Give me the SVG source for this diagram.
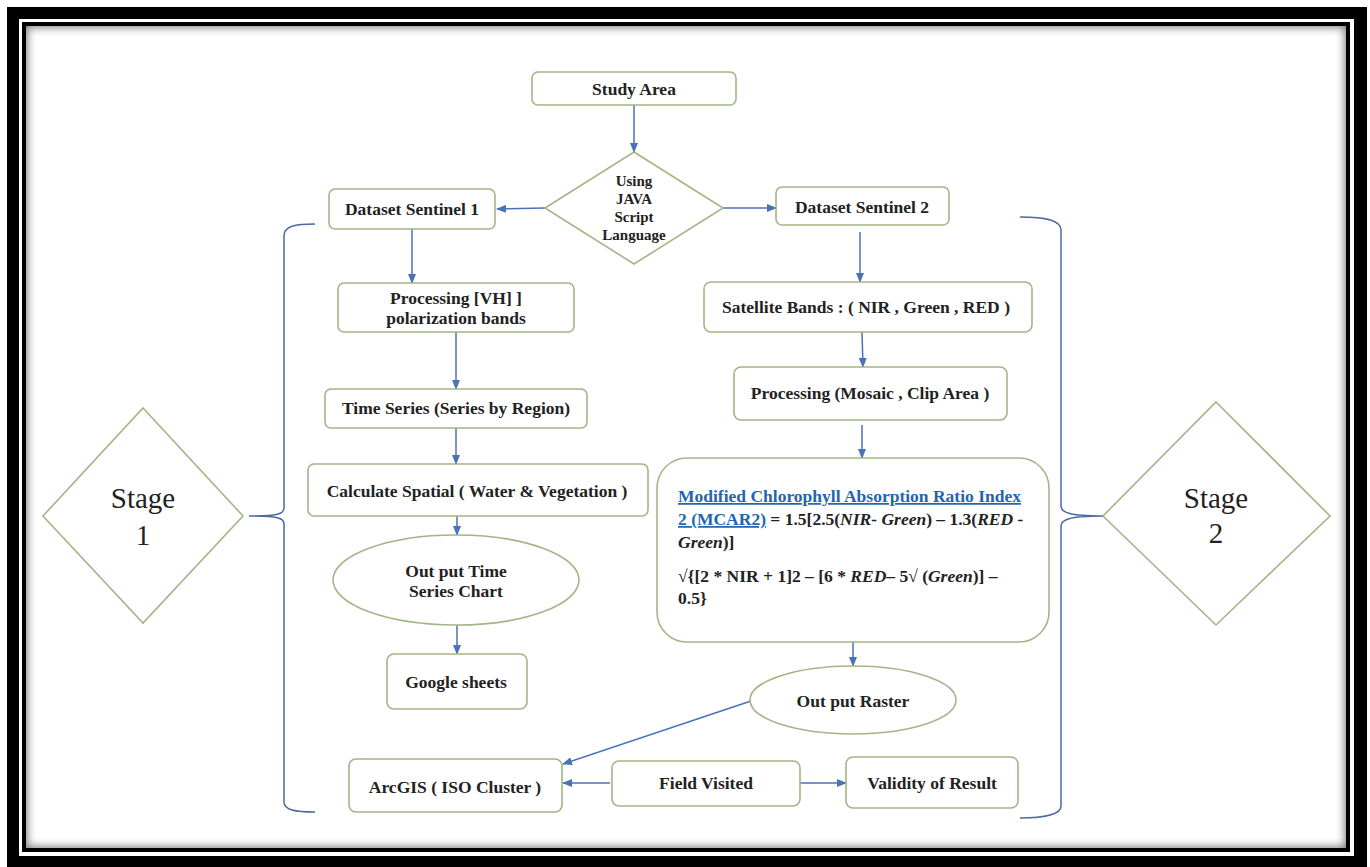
<svg xmlns="http://www.w3.org/2000/svg" width="1370" height="867" viewBox="0 0 1370 867">
<style>
.n{fill:#fff;stroke:#a2b685;stroke-width:1.6}
.t{font-family:"Liberation Serif","Times New Roman",serif;font-weight:bold;font-size:17.5px;fill:#222;text-anchor:middle}
.d{font-size:15px}
.s{font-family:"Liberation Serif","Times New Roman",serif;font-size:29px;fill:#222;text-anchor:middle}
.c{fill:none;stroke:#4a72b8;stroke-width:1.5}
.b{fill:none;stroke:#4d68a3;stroke-width:1.5}
.m{font-family:"Liberation Serif","Times New Roman",serif;font-weight:bold;font-size:17.5px;fill:#222}
.u{fill:#2266b0;text-decoration:underline}
.i{font-style:italic}
</style>
<defs>
<marker id="ah" markerWidth="10" markerHeight="8" refX="9" refY="4" orient="auto" markerUnits="userSpaceOnUse">
<path d="M0,0 L10,4 L0,8 Z" fill="#4a72b8"/>
</marker>
<clipPath id="inner"><rect x="26" y="26" width="1320" height="822"/></clipPath>
<filter id="blur" x="-5%" y="-5%" width="110%" height="110%"><feGaussianBlur stdDeviation="5"/></filter>
</defs>
<g id="frame">
<rect x="0" y="0" width="1370" height="867" fill="#fff"/>
<rect x="7" y="7" width="1360" height="860" fill="#000"/>
<rect x="19" y="19" width="1335" height="837" fill="#fff"/>
<rect x="22" y="22" width="1328" height="830" fill="#000"/>
<rect x="26" y="26" width="1320" height="822" fill="#fff"/>
<g clip-path="url(#inner)"><rect x="20" y="20" width="1332" height="834" fill="none" stroke="#000" stroke-width="14" opacity="0.55" filter="url(#blur)"/></g>
</g>
<g id="connectors">
<line class="c" x1="634" y1="105" x2="634" y2="152" marker-end="url(#ah)"/>
<line class="c" x1="545" y1="208" x2="497" y2="209" marker-end="url(#ah)"/>
<line class="c" x1="723" y1="208" x2="776" y2="208" marker-end="url(#ah)"/>
<line class="c" x1="412" y1="229" x2="412" y2="283" marker-end="url(#ah)"/>
<line class="c" x1="456" y1="332" x2="456" y2="389" marker-end="url(#ah)"/>
<line class="c" x1="456" y1="428" x2="456" y2="464" marker-end="url(#ah)"/>
<line class="c" x1="457" y1="516" x2="457" y2="535" marker-end="url(#ah)"/>
<line class="c" x1="457" y1="625" x2="457" y2="654" marker-end="url(#ah)"/>
<line class="c" x1="860" y1="232" x2="860" y2="282" marker-end="url(#ah)"/>
<line class="c" x1="862" y1="332" x2="863" y2="367" marker-end="url(#ah)"/>
<line class="c" x1="862" y1="425" x2="862" y2="458" marker-end="url(#ah)"/>
<line class="c" x1="853" y1="642" x2="853" y2="666" marker-end="url(#ah)"/>
<line class="c" x1="751" y1="701" x2="563" y2="764" marker-end="url(#ah)"/>
<line class="c" x1="610" y1="783" x2="563" y2="783" marker-end="url(#ah)"/>
<line class="c" x1="800" y1="783" x2="846" y2="783" marker-end="url(#ah)"/>
<path class="b" d="M315,224 C295,224 284,226 284,236 L284,508 C284,514 278,516 249,516 C278,516 284,518 284,524 L284,802 C284,810 295,812 315,812"/>
<path class="b" d="M1020,217 C1045,217 1061,220 1061,230 L1061,506 C1061,512 1068,516 1103,516 C1068,516 1061,520 1061,526 L1061,806 C1061,814 1045,818 1020,818"/>
</g>
<g id="study-area"><rect class="n" x="532" y="72" width="204" height="33" rx="6"/><text class="t" x="634" y="95">Study Area</text></g>
<g id="decision"><polygon class="n" points="634,152 723,208 634,264 545,208"/>
<text class="t d" x="634" y="186">Using</text><text class="t d" x="634" y="204">JAVA</text><text class="t d" x="634" y="222">Script</text><text class="t d" x="634" y="240">Language</text></g>
<g id="sentinel1"><rect class="n" x="329" y="189" width="166" height="40" rx="6"/><text class="t" x="412" y="215">Dataset Sentinel 1</text></g>
<g id="processing-vh"><rect class="n" x="338" y="283" width="236" height="49" rx="6"/><text class="t" x="456" y="304">Processing [VH] ]</text><text class="t" x="456" y="324">polarization bands</text></g>
<g id="time-series"><rect class="n" x="325" y="389" width="262" height="39" rx="6"/><text class="t" x="456" y="414">Time Series (Series by Region)</text></g>
<g id="calc-spatial"><rect class="n" x="308" y="464" width="340" height="52" rx="6"/><text class="t" x="477" y="497">Calculate Spatial ( Water &amp; Vegetation )</text></g>
<g id="out-ts"><ellipse class="n" cx="456" cy="580" rx="123" ry="45"/><text class="t" x="456" y="577">Out put Time</text><text class="t" x="456" y="597">Series Chart</text></g>
<g id="google"><rect class="n" x="387" y="654" width="140" height="55" rx="7"/><text class="t" x="456" y="688">Google sheets</text></g>
<g id="sentinel2"><rect class="n" x="776" y="187" width="173" height="38" rx="6"/><text class="t" x="862" y="213">Dataset Sentinel 2</text></g>
<g id="sat-bands"><rect class="n" x="704" y="282" width="328" height="50" rx="7"/><text class="t" x="866" y="313">Satellite Bands : ( NIR , Green , RED )</text></g>
<g id="mosaic"><rect class="n" x="734" y="367" width="273" height="53" rx="7"/><text class="t" x="870" y="399">Processing (Mosaic , Clip Area )</text></g>
<g id="mcar2"><rect class="n" x="657" y="458" width="392" height="184" rx="30"/>
<text class="m" x="678" y="502"><tspan class="u">Modified Chlorophyll Absorption Ratio Index</tspan></text>
<text class="m" x="678" y="525"><tspan class="u">2 (MCAR2)</tspan> = 1.5[2.5(<tspan class="i">NIR- Green</tspan>) – 1.3(<tspan class="i">RED -</tspan></text>
<text class="m" x="678" y="548"><tspan class="i">Green</tspan>)]</text>
<text class="m" x="678" y="582">√{[2 * NIR + 1]2 – [6 * <tspan class="i">RED</tspan>– 5√ (<tspan class="i">Green</tspan>)] –</text>
<text class="m" x="678" y="604">0.5}</text></g>
<g id="out-raster"><ellipse class="n" cx="853" cy="700" rx="103" ry="34"/><text class="t" x="853" y="707">Out put Raster</text></g>
<g id="arcgis"><rect class="n" x="349" y="759" width="213" height="53" rx="7"/><text class="t" x="455" y="793">ArcGIS ( ISO Cluster )</text></g>
<g id="field"><rect class="n" x="612" y="761" width="188" height="45" rx="7"/><text class="t" x="706" y="789">Field Visited</text></g>
<g id="validity"><rect class="n" x="846" y="757" width="172" height="51" rx="7"/><text class="t" x="932" y="789">Validity of Result</text></g>
<g id="stage1"><polygon class="n" points="143,408 243,516 143,623 43,516"/><text class="s" x="143" y="508">Stage</text><text class="s" x="143" y="545">1</text></g>
<g id="stage2"><polygon class="n" points="1216,402 1330,516 1216,625 1103,516"/><text class="s" x="1216" y="508">Stage</text><text class="s" x="1216" y="543">2</text></g>
</svg>
